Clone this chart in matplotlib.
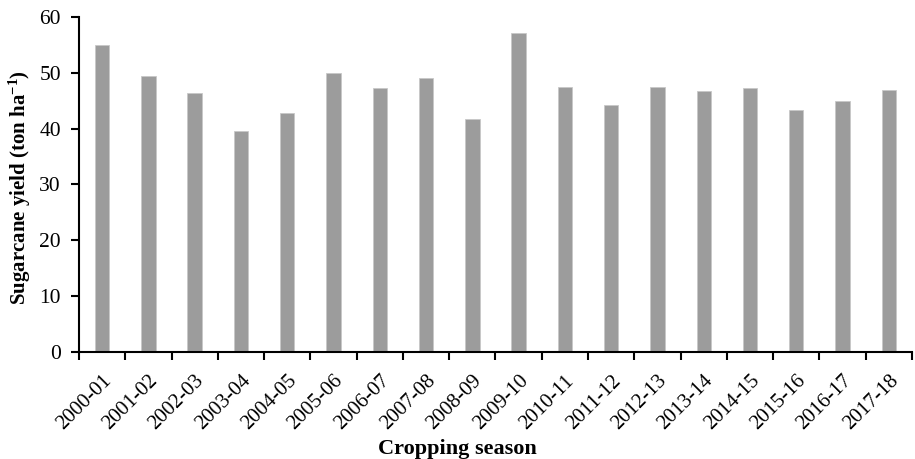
import numpy as np
import matplotlib
matplotlib.use("Agg")
import matplotlib.pyplot as plt

seasons = ["2000-01", "2001-02", "2002-03", "2003-04", "2004-05", "2005-06",
           "2006-07", "2007-08", "2008-09", "2009-10", "2010-11", "2011-12",
           "2012-13", "2013-14", "2014-15", "2015-16", "2016-17", "2017-18"]
yield_t = [54.9, 49.4, 46.3, 39.6, 42.8, 50.0, 47.2, 49.0, 41.7, 57.1,
           47.4, 44.2, 47.5, 46.8, 47.2, 43.3, 44.9, 46.9]

plt.rcParams['font.family'] = ['Liberation Serif', 'DejaVu Serif']
plt.rcParams['mathtext.fontset'] = 'custom'
plt.rcParams['mathtext.rm'] = 'Liberation Serif:bold'
plt.rcParams['mathtext.it'] = 'Liberation Serif:bold'
plt.rcParams['mathtext.bf'] = 'Liberation Serif:bold'

fig = plt.figure(figsize=(9.15, 4.59), dpi=100)
ax = fig.add_axes([0.0863, 0.2331, 0.9104, 0.7299])

x = np.arange(len(seasons))
ax.bar(x, yield_t, width=0.31, color="#9c9c9c", edgecolor="#c8c8c8", linewidth=0.6)

ax.set_xlim(-0.5, len(seasons) - 0.5)
ax.set_ylim(0, 60)
ax.set_yticks(np.arange(0, 61, 10))

ax.set_xticks(x)
ax.set_xticklabels(seasons, rotation=45, ha="right", rotation_mode="anchor")
ax.set_xticks(np.arange(-0.5, len(seasons)), minor=True)
ax.tick_params(axis="x", which="major", length=0, pad=14, labelsize=15)
ax.tick_params(axis="x", which="minor", length=6, width=1.5, direction="out")
ax.tick_params(axis="y", length=6, width=1.5, labelsize=15.5, pad=7)

for s in ["top", "right"]:
    ax.spines[s].set_visible(False)
for s in ["left", "bottom"]:
    ax.spines[s].set_linewidth(1.5)

ax.set_ylabel("Sugarcane yield (ton ha$^{-1}$)", fontsize=15, fontweight="bold")
ax.yaxis.set_label_coords(-0.055, 0.49)
ax.set_xlabel("Cropping season", fontsize=16, fontweight="bold")
ax.xaxis.set_label_coords(0.454, -0.26)

fig.savefig("out.png", dpi=100)
